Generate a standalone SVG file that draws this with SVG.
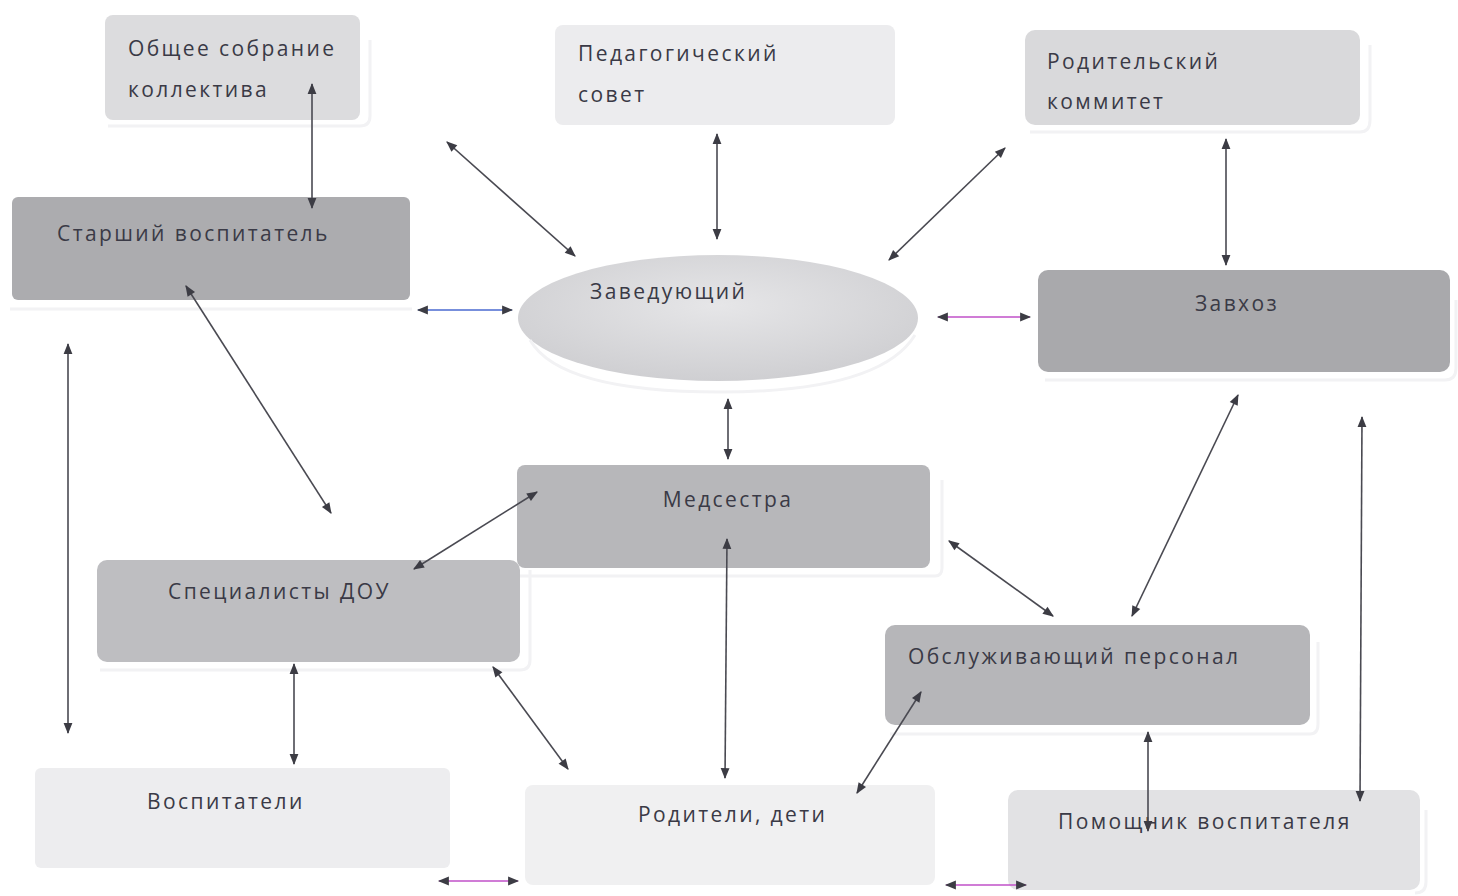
<svg xmlns="http://www.w3.org/2000/svg" width="1458" height="896" viewBox="0 0 1458 896">
<defs>
<marker id="ah" viewBox="0 0 10 10" refX="9" refY="5" markerWidth="13" markerHeight="11" orient="auto-start-reverse" markerUnits="userSpaceOnUse">
<path d="M0,1 L10,5 L0,9 z" fill="#3c3c44"/>
</marker>
<radialGradient id="eg" cx="0.5" cy="0.4" r="0.6">
<stop offset="0" stop-color="#e6e6e8"/>
<stop offset="1" stop-color="#cfcfd2"/>
</radialGradient>
</defs>
<style>
.t{font-family:"Open Sans","Liberation Sans",sans-serif;font-size:21px;fill:#3a3a46;letter-spacing:2.4px}
.sh{fill:none;stroke:#f2f2f4;stroke-width:3}
.c{stroke:#4a4a52;stroke-width:1.6;fill:none;marker-start:url(#ah);marker-end:url(#ah)}
</style>
<rect width="1458" height="896" fill="#ffffff"/>

<g id="n-obshchee">
<rect x="105" y="15" width="255" height="105" rx="8" fill="#dcdcde"/>
<path class="sh" d="M108,126 H360 Q370,126 370,116 V40"/>
<text class="t" x="128" y="56">Общее собрание</text>
<text class="t" x="128" y="97">коллектива</text>
</g>

<g id="n-pedsovet">
<rect x="555" y="25" width="340" height="100" rx="8" fill="#ececee"/>
<text class="t" x="578" y="61">Педагогический</text>
<text class="t" x="578" y="102">совет</text>
</g>

<g id="n-roditelsky">
<rect x="1025" y="30" width="335" height="95" rx="10" fill="#d9d9db"/>
<path class="sh" d="M1030,132 H1360 Q1370,132 1370,120 V45"/>
<text class="t" x="1047" y="69">Родительский</text>
<text class="t" x="1047" y="109">коммитет</text>
</g>

<g id="n-starshy">
<rect x="12" y="197" width="398" height="103" rx="6" fill="#acacaf"/>
<path class="sh" d="M10,309 H412"/>
<text class="t" x="57" y="241">Старший воспитатель</text>
</g>

<g id="n-zaveduyushchy">
<ellipse cx="718" cy="318" rx="200" ry="63" fill="url(#eg)"/>
<path class="sh" d="M530,340 Q560,392 720,392 Q880,392 915,335"/>
<text class="t" x="590" y="299">Заведующий</text>
</g>

<g id="n-zavkhoz">
<rect x="1038" y="270" width="412" height="102" rx="10" fill="#a9a9ac"/>
<path class="sh" d="M1045,380 H1445 Q1456,380 1456,368 V300"/>
<text class="t" x="1237" y="311" text-anchor="middle">Завхоз</text>
</g>

<g id="n-medsestra">
<rect x="517" y="465" width="413" height="103" rx="8" fill="#b7b7ba"/>
<path class="sh" d="M520,576 H935 Q942,576 942,568 V480"/>
<text class="t" x="728" y="507" text-anchor="middle">Медсестра</text>
</g>

<g id="n-spetsialisty">
<rect x="97" y="560" width="423" height="102" rx="10" fill="#bebec1"/>
<path class="sh" d="M100,670 H520 Q530,670 530,660 V570"/>
<text class="t" x="168" y="599">Специалисты ДОУ</text>
</g>

<g id="n-obsluzhivayushchy">
<rect x="885" y="625" width="425" height="100" rx="10" fill="#b6b6b9"/>
<path class="sh" d="M890,734 H1310 Q1318,734 1318,724 V642"/>
<text class="t" x="908" y="664">Обслуживающий персонал</text>
</g>

<g id="n-vospitateli">
<rect x="35" y="768" width="415" height="100" rx="6" fill="#ededef"/>
<text class="t" x="147" y="809">Воспитатели</text>
</g>

<g id="n-roditeli">
<rect x="525" y="785" width="410" height="100" rx="8" fill="#f0f0f1"/>
<text class="t" x="638" y="822">Родители, дети</text>
</g>

<g id="n-pomoshchnik">
<rect x="1008" y="790" width="412" height="100" rx="10" fill="#e2e2e4"/>
<path class="sh" d="M1415,893 Q1426,893 1426,882 V810"/>
<text class="t" x="1058" y="829">Помощник воспитателя</text>
</g>

<g id="connectors">
<line class="c" x1="312" y1="84" x2="312" y2="208"/>
<line class="c" x1="447" y1="142" x2="575" y2="256"/>
<line class="c" x1="717" y1="134" x2="717" y2="239"/>
<line class="c" x1="1005" y1="148" x2="889" y2="260"/>
<line class="c" x1="1226" y1="139" x2="1226" y2="265"/>
<line class="c" x1="418" y1="310" x2="512" y2="310" style="stroke:#4a6ad0"/>
<line class="c" x1="938" y1="317" x2="1030" y2="317" style="stroke:#c050c8"/>
<line class="c" x1="68" y1="344" x2="68" y2="733"/>
<line class="c" x1="186" y1="286" x2="331" y2="513"/>
<line class="c" x1="728" y1="399" x2="728" y2="459"/>
<line class="c" x1="537" y1="492" x2="414" y2="569"/>
<line class="c" x1="727" y1="539" x2="725" y2="778"/>
<line class="c" x1="949" y1="541" x2="1053" y2="616"/>
<line class="c" x1="1238" y1="395" x2="1132" y2="616"/>
<line class="c" x1="1362" y1="417" x2="1360" y2="801"/>
<line class="c" x1="294" y1="664" x2="294" y2="764"/>
<line class="c" x1="493" y1="667" x2="568" y2="769"/>
<line class="c" x1="921" y1="692" x2="857" y2="793"/>
<line class="c" x1="1148" y1="732" x2="1148" y2="831"/>
<line class="c" x1="439" y1="881" x2="518" y2="881" style="stroke:#c050c8"/>
<line class="c" x1="946" y1="885" x2="1026" y2="885" style="stroke:#c050c8"/>
</g>
</svg>
